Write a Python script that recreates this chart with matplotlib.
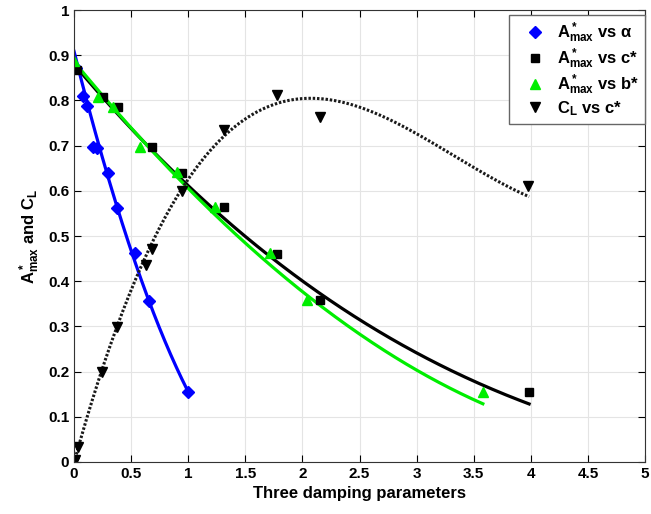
import numpy as np
import matplotlib
matplotlib.use("Agg")
import matplotlib.pyplot as plt

alpha = [0.02, 0.08, 0.11, 0.17, 0.20, 0.30, 0.38, 0.53, 0.66, 1.0]
amax_alpha = [0.872, 0.81, 0.788, 0.697, 0.695, 0.639, 0.562, 0.462, 0.356, 0.155]

cstar = [0.03, 0.25, 0.385, 0.68, 0.945, 1.31, 1.78, 2.15, 3.985]
amax_c = [0.867, 0.808, 0.786, 0.697, 0.64, 0.564, 0.46, 0.358, 0.155]

bstar = [0.0, 0.21, 0.34, 0.58, 0.90, 1.235, 1.72, 2.04, 3.58]
amax_b = [0.887, 0.808, 0.786, 0.697, 0.642, 0.564, 0.462, 0.358, 0.155]

cl_x = [0.0, 0.01, 0.035, 0.245, 0.377, 0.63, 0.68, 0.945, 1.31, 1.78, 2.15, 3.975]
cl_y = [0.0, 0.005, 0.033, 0.199, 0.299, 0.436, 0.471, 0.60, 0.734, 0.812, 0.763, 0.61]

# Fitted curves
fit_alpha_x = [0.0, 0.28, 0.38, 0.51, 0.65, 1.0]
fit_alpha_y = [0.908, 0.646, 0.565, 0.46, 0.358, 0.156]

fit_c_x = [0.0, 0.4, 0.98, 1.53, 1.79, 2.0, 2.5, 3.07, 3.5, 3.985]
fit_c_y = [0.88, 0.768, 0.609, 0.495, 0.44, 0.403, 0.318, 0.23, 0.175, 0.131]

fit_b_x = [0.0, 0.4, 0.98, 1.53, 1.79, 2.0, 2.4, 2.85, 3.58]
fit_b_y = [0.885, 0.77, 0.605, 0.49, 0.414, 0.373, 0.30, 0.229, 0.128]

fit_cl_x = [0.0, 0.245, 0.38, 0.945, 1.31, 2.04, 2.5, 3.0, 3.5, 3.985]
fit_cl_y = [0.0, 0.2, 0.305, 0.602, 0.723, 0.805, 0.785, 0.723, 0.655, 0.586]

plt.rcParams['font.family'] = ['Liberation Sans', 'DejaVu Sans']
plt.rcParams['font.weight'] = 'bold'
plt.rcParams['mathtext.fontset'] = 'custom'
plt.rcParams['mathtext.rm'] = 'Liberation Sans:bold'
plt.rcParams['mathtext.it'] = 'Liberation Sans:bold'
plt.rcParams['mathtext.bf'] = 'Liberation Sans:bold'

fig = plt.figure(figsize=(6.51, 5.14), dpi=100)
ax = fig.add_axes([0.1137, 0.1012, 0.8771, 0.8793])

# smooth the sampled curves
def smooth(x, y, deg=3):
    p = np.polyfit(x, y, deg)
    xx = np.linspace(x[0], x[-1], 300)
    return xx, np.polyval(p, xx)

xx, yy = smooth(fit_alpha_x, fit_alpha_y, 2)
ax.plot(xx, yy, '-', color='#0000ff', lw=2.3)
xx, yy = smooth(fit_c_x, fit_c_y)
ax.plot(xx, yy, '-', color='k', lw=2.3)
xx, yy = smooth(fit_b_x, fit_b_y)
ax.plot(xx, yy, '-', color='#00ee00', lw=2.3)
xx, yy = smooth(fit_cl_x, fit_cl_y)
ax.plot(xx, yy, color='#1a1a1a', lw=2.2, ls=(0, (0.8, 0.6)))

ax.plot(alpha, amax_alpha, 'D', color='#0000ff', ms=6, ls='none', label=r'A$^*_{max}$ vs $\alpha$')
ax.plot(cstar, amax_c, 's', color='k', ms=6, ls='none', label=r'A$^*_{max}$ vs c*')
ax.plot(bstar, amax_b, '^', color='#00ee00', ms=7, ls='none', label=r'A$^*_{max}$ vs b*')
ax.plot(cl_x, cl_y, 'v', color='k', ms=7, ls='none', label=r'C$_L$ vs c*')

ax.set_xlim(0, 5)
ax.set_ylim(0, 1)
ax.set_xticks(np.arange(0, 5.01, 0.5))
ax.set_xticklabels(['0', '0.5', '1', '1.5', '2', '2.5', '3', '3.5', '4', '4.5', '5'])
ax.set_yticks(np.arange(0, 1.01, 0.1))
ax.set_yticklabels(['0', '0.1', '0.2', '0.3', '0.4', '0.5', '0.6', '0.7', '0.8', '0.9', '1'])
ax.tick_params(direction='in', top=True, right=True, labelsize=11, length=5)
ax.grid(True, color='#e4e4e4', lw=0.8)
ax.set_axisbelow(True)
for s in ax.spines.values():
    s.set_color('#333333')

ax.set_xlabel('Three damping parameters', fontsize=12, fontweight='bold')
ax.set_ylabel(r'A$^*_{max}$ and C$_L$', fontsize=12, fontweight='bold')

leg = ax.legend(loc='upper right', bbox_to_anchor=(1.0, 0.989), borderaxespad=0,
                fontsize=12, framealpha=1, fancybox=False, edgecolor='#666666',
                borderpad=0.35, labelspacing=0.1, handlelength=2.5, handletextpad=0.05)
leg.get_frame().set_linewidth(1.0)

fig.savefig('out.png', dpi=100)
